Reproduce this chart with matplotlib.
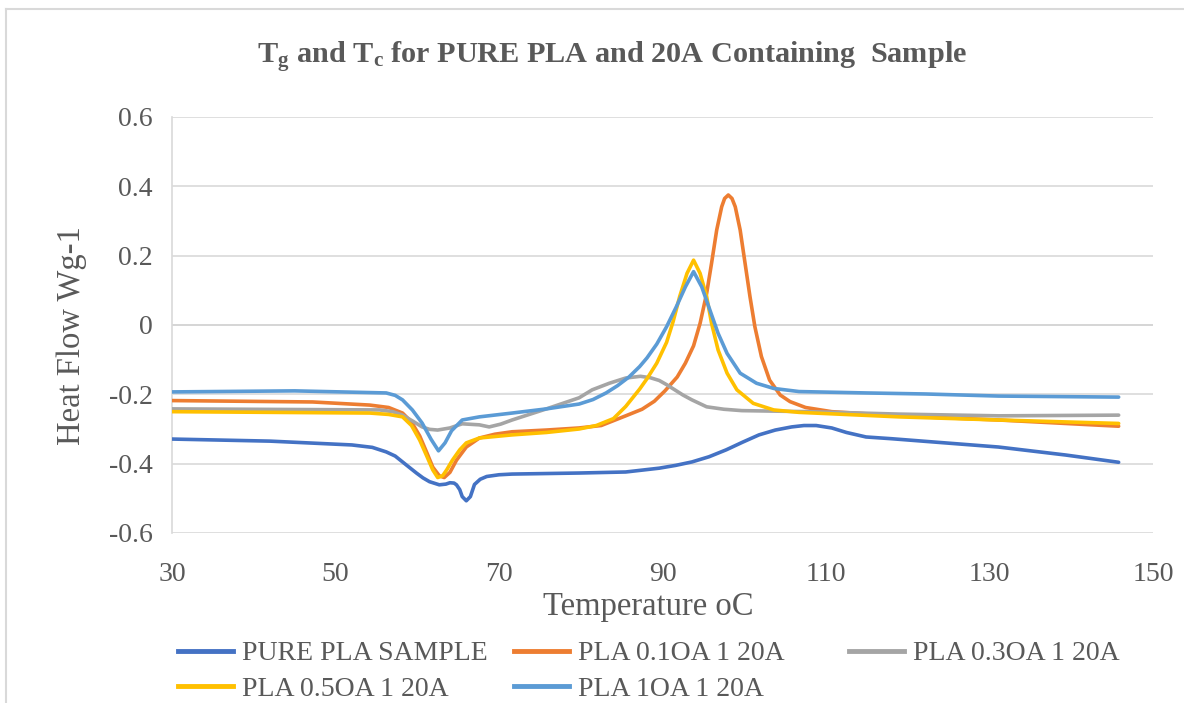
import matplotlib
matplotlib.use("Agg")
from matplotlib import pyplot as plt
from matplotlib.lines import Line2D

# temperature (oC) / heat flow (W/g)
t_pure = [30, 42, 52, 54.5, 56.2, 57.3, 58.2, 59.1, 59.9, 60.7, 61.5, 62.7, 63.5, 64, 64.5, 64.8,
          65.2, 65.5, 66, 66.5, 67, 67.7, 68.5, 70, 71.6, 79.8, 85.5, 89.6, 91.6, 93.6, 95.7, 97.8,
          99.8, 101.8, 103.8, 105.8, 107.3, 108.8, 110.7, 112.5, 114.9, 118, 122.9, 131.1, 139.3, 145.8]
hf_pure = [-0.329, -0.335, -0.346, -0.353, -0.366, -0.378, -0.395, -0.412, -0.427, -0.441, -0.452,
           -0.461, -0.459, -0.455, -0.456, -0.461, -0.475, -0.495, -0.507, -0.495, -0.46, -0.445,
           -0.437, -0.432, -0.43, -0.427, -0.424, -0.413, -0.405, -0.395, -0.38, -0.36, -0.338,
           -0.317, -0.303, -0.294, -0.29, -0.29, -0.297, -0.31, -0.323, -0.328, -0.337, -0.352,
           -0.375, -0.396]

t_01 = [30, 47.2, 54.2, 56.5, 58.2, 59.3, 60.3, 61.2, 61.9, 62.7, 63.3, 64.0, 64.8, 66, 67.6,
        69.5, 71.6, 75.8, 79.8, 82.5, 85.5, 87.5, 89.0, 90.3, 91.8, 92.8, 93.8, 94.6, 95.4, 96.0,
        96.63, 97.24, 97.6, 98.05, 98.5, 98.9, 99.5, 100.1, 100.7, 101.3, 102.1, 103.1, 104.4,
        105.6, 107.5, 110.7, 118.9, 131.1, 145.8]
hf_01 = [-0.218, -0.222, -0.231, -0.238, -0.254, -0.28, -0.32, -0.37, -0.41, -0.435, -0.44, -0.425,
         -0.39, -0.352, -0.326, -0.315, -0.308, -0.303, -0.297, -0.29, -0.262, -0.243, -0.22, -0.19,
         -0.15, -0.11, -0.06, 0.005, 0.091, 0.178, 0.274, 0.341, 0.365, 0.375, 0.365, 0.341, 0.274,
         0.178, 0.082, -0.005, -0.091, -0.159, -0.202, -0.221, -0.238, -0.25, -0.262, -0.274, -0.292]

t_03 = [30, 55.4, 57, 58.2, 59.5, 60.6, 61.5, 62.5, 64, 65.5, 67.6, 68.8, 70.2, 71.6, 75.8, 79.8,
        81.4, 83.5, 85.5, 87.3, 88.5, 89.6, 90.5, 91.5, 92.5, 93.6, 95.4, 97.5, 99.7, 107.9, 118.9,
        131.1, 145.8]
hf_03 = [-0.242, -0.245, -0.25, -0.26, -0.278, -0.294, -0.301, -0.303, -0.297, -0.285, -0.288,
         -0.294, -0.286, -0.274, -0.242, -0.21, -0.187, -0.168, -0.153, -0.148, -0.152, -0.16,
         -0.172, -0.187, -0.202, -0.216, -0.236, -0.243, -0.247, -0.25, -0.257, -0.262, -0.26]

t_05 = [30, 54.2, 56.5, 58.2, 59.3, 60.3, 61.2, 61.9, 62.5, 63.1, 63.6, 64.3, 65.2, 66, 67.6,
        71.6, 75.8, 79.8, 81.9, 84.0, 85.5, 87.2, 88.1, 89.3, 90.5, 91.3, 92.1, 93.0, 93.8, 94.6,
        95.4, 96.0, 96.8, 97.9, 99.1, 101.1, 103.6, 106.7, 118.9, 131.1, 145.8]
hf_05 = [-0.25, -0.254, -0.258, -0.265, -0.29, -0.332, -0.38, -0.418, -0.44, -0.435, -0.418, -0.39,
         -0.36, -0.34, -0.326, -0.317, -0.31, -0.3, -0.29, -0.27, -0.235, -0.185, -0.155, -0.11,
         -0.05, 0.01, 0.082, 0.149, 0.187, 0.149, 0.082, 0.005, -0.072, -0.139, -0.187, -0.226,
         -0.245, -0.252, -0.265, -0.274, -0.284]

t_1 = [30, 45, 56.2, 57.3, 58.2, 59.4, 60.6, 61.7, 62.6, 63.4, 64.2, 65.5, 67.6, 71.6, 75.8, 79.8,
       81.5, 83.1, 84.5, 85.9, 87.2, 88.1, 89.3, 90.5, 91.7, 92.8, 93.8, 94.8, 95.8, 96.8, 97.9,
       99.5, 101.5, 103.6, 106.7, 114.9, 122.2, 131.1, 145.8]
hf_1 = [-0.193, -0.19, -0.196, -0.203, -0.216, -0.245, -0.283, -0.33, -0.363, -0.34, -0.305, -0.274,
        -0.265, -0.254, -0.242, -0.228, -0.215, -0.196, -0.175, -0.15, -0.12, -0.095, -0.055, -0.005,
        0.053, 0.11, 0.154, 0.11, 0.043, -0.024, -0.082, -0.139, -0.168, -0.183, -0.192, -0.196,
        -0.199, -0.205, -0.208]

series = [
    (t_pure, hf_pure, "PURE PLA SAMPLE", "#4472C4"),
    (t_01, hf_01, "PLA 0.1OA 1 20A", "#ED7D31"),
    (t_03, hf_03, "PLA 0.3OA 1 20A", "#A5A5A5"),
    (t_05, hf_05, "PLA 0.5OA 1 20A", "#FFC000"),
    (t_1, hf_1, "PLA 1OA 1 20A", "#5B9BD5"),
]

plt.rcParams["font.family"] = ["Liberation Serif", "DejaVu Serif"]
plt.rcParams["mathtext.fontset"] = "custom"
plt.rcParams["mathtext.bf"] = "Liberation Serif:bold"
plt.rcParams["mathtext.rm"] = "Liberation Serif"
plt.rcParams["mathtext.default"] = "bf"

txt = "#595959"
fig = plt.figure(figsize=(11.84, 7.03), dpi=100)
ax = fig.add_axes([172 / 1184, 1 - 533 / 703, (1153 - 172) / 1184, (533 - 117) / 703])

for t, hf, name, col in series:
    ax.plot(t, hf, color=col, lw=2.6, label=name, solid_capstyle="round",
            solid_joinstyle="round", zorder=3)

ax.set_xlim(30, 150)
ax.set_ylim(-0.6, 0.6)
ax.set_xticks(range(30, 151, 20))
ax.set_yticks([-0.6, -0.4, -0.2, 0, 0.2, 0.4, 0.6])
ax.set_yticklabels(["-0.6", "-0.4", "-0.2", "0", "0.2", "0.4", "0.6"])
ax.grid(axis="y", color="#D9D9D9", lw=1.2, zorder=0)
ax.axhline(0, color="#BFBFBF", lw=1.2, zorder=1)
for s in ["top", "right", "bottom"]:
    ax.spines[s].set_visible(False)
ax.spines["left"].set_color("#D9D9D9")
ax.spines["left"].set_linewidth(1.2)
ax.tick_params(length=0, labelsize=20, colors=txt, pad=14)
ax.tick_params(axis="x", pad=21)

fig.text(648 / 1184, 1 - 607 / 703, "Temperature oC", ha="center", va="center",
         fontsize=23.5, color=txt)
fig.text(72 / 1184, 1 - 336 / 703, "Heat Flow Wg-1", ha="center", va="center",
         rotation=90, fontsize=23.5, color=txt)
fig.text(612 / 1184, 1 - 58 / 703, "T$_{g}$ and T$_{c}$ for PURE PLA and 20A Containing  Sample",
         ha="center", va="center", fontsize=21.8, fontweight="bold", color=txt)

# legend: Excel lays out the entries row by row in fixed columns
legend_cols = [(164, [0, 3]), (500, [1, 4]), (835, [2])]
for x0, idx in legend_cols:
    handles = [Line2D([], [], color=series[i][3], lw=3.5) for i in idx]
    labels = [series[i][2] for i in idx]
    fig.legend(handles, labels, loc="upper left", bbox_to_anchor=(x0 / 1184, 1 - 627 / 703),
               frameon=False, fontsize=20, labelcolor=txt, handlelength=2.0,
               handletextpad=0.3, labelspacing=0.35, borderpad=0)

# chart-area frame
fig.add_artist(Line2D([6 / 1184, 1], [1 - 9 / 703] * 2, color="#D9D9D9", lw=1.5, transform=fig.transFigure))
fig.add_artist(Line2D([6 / 1184] * 2, [0, 1 - 9 / 703], color="#D9D9D9", lw=1.5, transform=fig.transFigure))

plt.savefig("out.png", dpi=100)
